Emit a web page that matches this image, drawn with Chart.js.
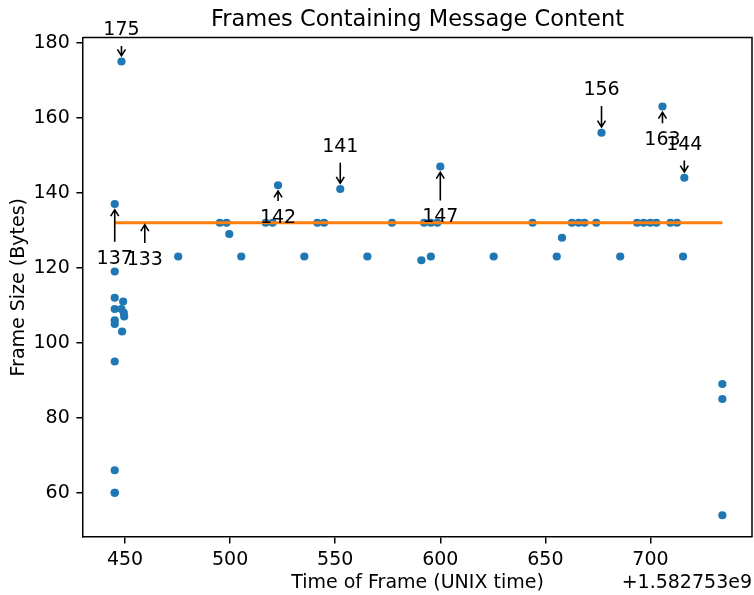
<!DOCTYPE html>
<html>
<head>
<meta charset="utf-8">
<script src="https://cdn.jsdelivr.net/npm/chart.js@4/dist/chart.umd.min.js"></script>
<style>
  html, body { margin: 0; padding: 0; background: #fff; }
  #wrap { width: 754px; height: 595px; }
</style>
</head>
<body>
<div id="wrap"><canvas id="c" width="754" height="595"></canvas></div>
<script>
// Frame capture times, in seconds after the offset shown on the axis
const TIME_OFFSET_LABEL = '+1.582753e9';

const frameTimes = [
  448.3, 445.1, 445.1, 445.1, 449.1, 445.1, 448.3, 449.4, 449.6, 445.1,
  445.1, 448.6, 445.1, 445.1, 445.1, 445.1, 475.3, 495.1, 498.3, 499.6,
  505.3, 516.9, 520.2, 522.8, 535.3, 541.5, 544.7, 552.4, 565.3, 577.0,
  591.0, 592.3, 595.5, 595.5, 598.6, 600.0, 625.4, 643.9, 655.4, 657.9,
  662.6, 665.8, 668.6, 674.2, 676.7, 685.6, 693.6, 696.7, 699.9, 702.8,
  705.7, 709.5, 712.6, 716.1, 715.5, 734.2, 734.2, 734.2
];
const frameSizes = [
  175, 137, 119, 112, 111, 109, 109, 108, 107, 106,
  105, 103, 95, 66, 60, 60, 123, 132, 132, 129,
  123, 132, 132, 142, 123, 132, 132, 141, 123, 132,
  122, 132, 132, 123, 132, 147, 123, 132, 123, 128,
  132, 132, 132, 132, 156, 123, 132, 132, 132, 132,
  163, 132, 132, 144, 123, 89, 85, 54
];

// Typical message frame size, drawn as a horizontal reference line
const typicalSize = 132;
const typicalSpan = [445.1, 734.2];

// Called-out frames
const calloutTimes = [448.3, 445.1, 459.4, 522.8, 552.4, 600.0, 676.7, 705.7, 716.1];
const calloutSizes = [175, 137, 133, 142, 141, 147, 156, 163, 144];

const xTicks = [450, 500, 550, 600, 650, 700];
const yTicks = [60, 80, 100, 120, 140, 160, 180];

const FONT = 'DejaVu Sans';

// vertical offset (px) of each callout label from the frame it points at
const calloutLabelDy = [-33, 52.7, 39, 30.7, -43.8, 49, -44.2, 31.8, -34.8];

const axesDecor = {
  id: 'axesDecor',
  afterDatasetsDraw(chart) {
    const ctx = chart.ctx;
    const xs = chart.scales.x, ys = chart.scales.y;
    ctx.save();
    ctx.fillStyle = '#000';
    ctx.strokeStyle = '#000';
    ctx.font = '19px "' + FONT + '"';
    ctx.textAlign = 'center';
    ctx.textBaseline = 'alphabetic';
    ctx.lineWidth = 1.6;
    calloutTimes.forEach((t, i) => {
      const px = xs.getPixelForValue(t);
      const py = ys.getPixelForValue(calloutSizes[i]);
      const dy = calloutLabelDy[i];
      const ty = py + dy;
      ctx.fillText(String(calloutSizes[i]), px, ty + 6.9);
      let y0, y1, dir;
      if (dy < 0) { y0 = ty + 17.5; y1 = py - 5.7; dir = 1; }
      else { y0 = ty - 15; y1 = py + 5.7; dir = -1; }
      ctx.beginPath();
      ctx.moveTo(px, y0);
      ctx.lineTo(px, y1);
      ctx.moveTo(px - 4, y1 - dir * 6.5);
      ctx.lineTo(px, y1);
      ctx.lineTo(px + 4, y1 - dir * 6.5);
      ctx.stroke();
    });
    ctx.restore();
  },
  afterDraw(chart) {
    const ctx = chart.ctx;
    const a = chart.chartArea;
    ctx.save();
    ctx.strokeStyle = '#000';
    ctx.lineWidth = 1.5;
    ctx.beginPath();
    ctx.moveTo(a.left, a.top);
    ctx.lineTo(a.right, a.top);
    ctx.lineTo(a.right, a.bottom);
    ctx.stroke();

    ctx.fillStyle = '#000';
    ctx.textAlign = 'center';
    ctx.textBaseline = 'alphabetic';
    ctx.font = '22.5px "' + FONT + '"';
    ctx.fillText('Frames Containing Message Content', (a.left + a.right) / 2, 26.3);

    ctx.font = '19px "' + FONT + '"';
    ctx.fillText('Time of Frame (UNIX time)', (a.left + a.right) / 2, 588);

    ctx.textAlign = 'right';
    ctx.fillText(TIME_OFFSET_LABEL, a.right, 588);

    ctx.translate(24, (a.top + a.bottom) / 2);
    ctx.rotate(-Math.PI / 2);
    ctx.textAlign = 'center';
    ctx.fillText('Frame Size (Bytes)', 0, 0);
    ctx.restore();
  }
};

const tickFont = { family: FONT, size: 19 };

new Chart(document.getElementById('c'), {
  type: 'scatter',
  data: {
    datasets: [
      {
        label: 'typical',
        data: typicalSpan.map(t => ({ x: t, y: typicalSize })),
        showLine: true,
        borderColor: '#ff7f0e',
        borderWidth: 2.8,
        pointRadius: 0,
        order: 0
      },
      {
        label: 'frames',
        data: frameTimes.map((t, i) => ({ x: t, y: frameSizes[i] })),
        backgroundColor: '#1f77b4',
        borderWidth: 0,
        pointRadius: 4.1,
        order: 1
      }
    ]
  },
  options: {
    responsive: false,
    animation: false,
    devicePixelRatio: 1,
    layout: { autoPadding: false, padding: { left: 0, top: 37.5, right: 2, bottom: 0 } },
    plugins: { legend: { display: false }, tooltip: { enabled: false }, title: { display: false } },
    scales: {
      x: {
        type: 'linear',
        min: 430,
        max: 748.3,
        afterBuildTicks: s => { s.ticks = xTicks.map(v => ({ value: v })); },
        afterFit: s => { s.height = 58; s.paddingLeft = 0; s.paddingRight = 0; },
        grid: { drawOnChartArea: false, drawTicks: true, tickLength: 6.6, color: '#000', lineWidth: 1.5 },
        border: { display: true, color: '#000', width: 1.5 },
        ticks: { color: '#000', font: tickFont, padding: 5, maxRotation: 0, autoSkip: false,
                 callback: v => String(v) }
      },
      y: {
        type: 'linear',
        min: 48.2,
        max: 181.4,
        afterBuildTicks: s => { s.ticks = yTicks.map(v => ({ value: v })); },
        afterFit: s => { s.width = 83; },
        grid: { drawOnChartArea: false, drawTicks: true, tickLength: 6.6, color: '#000', lineWidth: 1.5 },
        border: { display: true, color: '#000', width: 1.5 },
        ticks: { color: '#000', font: tickFont, padding: 6.6, autoSkip: false,
                 callback: v => String(v) }
      }
    }
  },
  plugins: [axesDecor]
});
</script>
</body>
</html>
